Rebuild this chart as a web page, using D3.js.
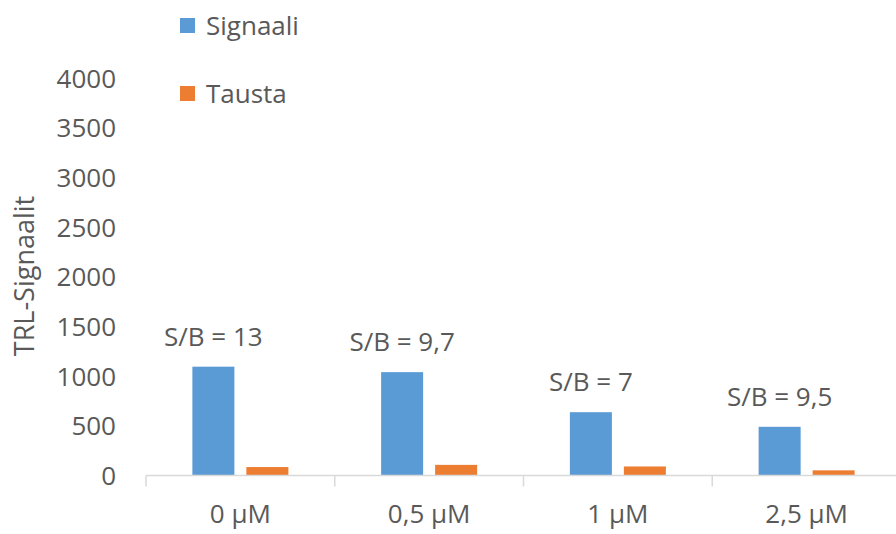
<!DOCTYPE html>
<html>
<head>
<meta charset="utf-8">
<script src="https://cdn.jsdelivr.net/npm/d3@7"></script>
<style>
  html, body { margin: 0; padding: 0; background: #fff; }
  svg text { font-family: "Open Sans", "Liberation Sans", sans-serif; fill: #595959; }
</style>
</head>
<body>
<svg id="chart" width="896" height="534"></svg>
<script>
// Concentrations along the x axis
const categories = ["0 μM", "0,5 μM", "1 μM", "2,5 μM"];
// Series names
const seriesNames = ["Signaali", "Tausta"];
// TRL signal and background per concentration
const signal = [1095, 1040, 637, 490];
const background = [85, 107, 91, 52];
// Signal-to-background annotations above the signal bars
const sbLabels = ["S/B = 13", "S/B = 9,7", "S/B = 7", "S/B = 9,5"];
// Y axis ticks
const yTicks = [0, 500, 1000, 1500, 2000, 2500, 3000, 3500, 4000];

const colors = { "Signaali": "#5B9BD5", "Tausta": "#ED7D31" };
const seriesValues = { "Signaali": signal, "Tausta": background };

const svg = d3.select("#chart");

const x0 = d3.scaleBand()
  .domain(categories)
  .range([146, 901])
  .paddingInner(0)
  .paddingOuter(0);

const groupWidth = 96;
const x1 = d3.scaleBand()
  .domain(seriesNames)
  .range([(x0.bandwidth() - groupWidth) / 2, (x0.bandwidth() + groupWidth) / 2])
  .paddingInner(0.222)
  .paddingOuter(0);

const y = d3.scaleLinear().domain([0, 4000]).range([475.5, 78]);

// Y axis: labels only
const yAxis = d3.axisLeft(y).tickValues(yTicks).tickFormat(d3.format("d")).tickSize(0).tickPadding(0);
const yg = svg.append("g").attr("transform", "translate(116,0)").call(yAxis);
yg.select(".domain").remove();
yg.selectAll("text")
  .style("font-size", "26px")
  .attr("fill", "#595959")
  .attr("dy", "0.35em");

// Bars
categories.forEach((cat, i) => {
  const g = svg.append("g").attr("transform", `translate(${x0(cat)},0)`);
  seriesNames.forEach(s => {
    const v = seriesValues[s][i];
    g.append("rect")
      .attr("x", x1(s))
      .attr("y", y(v))
      .attr("width", x1.bandwidth())
      .attr("height", y(0) - y(v))
      .attr("fill", colors[s]);
  });
  // S/B annotation centred over the signal bar
  g.append("text")
    .attr("x", x1("Signaali") + x1.bandwidth() / 2)
    .attr("y", y(signal[i]) - 21)
    .attr("text-anchor", "middle")
    .style("font-size", "26px")
    .text(sbLabels[i]);
});

// X axis
const xAxis = d3.axisBottom(x0).tickSize(0).tickPadding(0);
const xg = svg.append("g").attr("transform", `translate(0,${y(0)})`).call(xAxis);
xg.select(".domain").attr("stroke", "#d9d9d9").attr("stroke-width", 1.5)
  .attr("d", `M${x0.range()[0]},0H${x0.range()[1]}`);
xg.selectAll(".tick text")
  .style("font-size", "26px")
  .attr("fill", "#595959")
  .attr("y", 47)
  .attr("dy", "0");
// Category separators
const bounds = categories.map(c => x0(c));
xg.selectAll(".sep").data(bounds).enter().append("line")
  .attr("class", "sep")
  .attr("x1", d => d).attr("x2", d => d)
  .attr("y1", 0).attr("y2", 11)
  .attr("stroke", "#d9d9d9").attr("stroke-width", 1.5);

// Y axis title
svg.append("text")
  .attr("transform", "translate(34,276) rotate(-90)")
  .attr("text-anchor", "middle")
  .style("font-size", "27px")
  .text("TRL-Signaalit");

// Legend
const legend = svg.append("g");
const legendY = [26, 94];
seriesNames.forEach((s, i) => {
  legend.append("rect")
    .attr("x", 180).attr("y", legendY[i] - 8)
    .attr("width", 15).attr("height", 15)
    .attr("fill", colors[s]);
  legend.append("text")
    .attr("x", 206).attr("y", legendY[i])
    .attr("dy", "0.35em")
    .style("font-size", "26px")
    .text(s);
});
</script>
</body>
</html>
